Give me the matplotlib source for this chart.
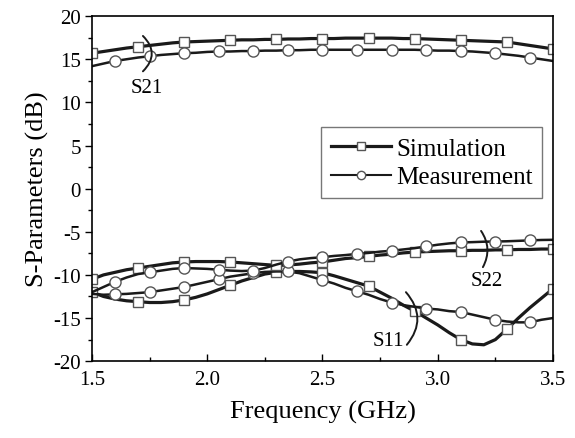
import numpy as np
import matplotlib
matplotlib.use("Agg")
import matplotlib.pyplot as plt
from matplotlib.ticker import MultipleLocator, FormatStrFormatter
from matplotlib.lines import Line2D

plt.rcParams['font.family'] = ['Liberation Serif', 'DejaVu Serif']
plt.rcParams['axes.unicode_minus'] = False

# frequency grid (GHz)
freq = np.round(np.arange(1.5, 3.5001, 0.05), 2)

s21_sim = [15.7, 15.9, 16.1, 16.3, 16.45, 16.6, 16.75, 16.9, 17.0, 17.05,
           17.1, 17.15, 17.2, 17.25, 17.25, 17.3, 17.3, 17.35, 17.35, 17.4,
           17.4, 17.4, 17.45, 17.45, 17.45, 17.45, 17.45, 17.4, 17.4, 17.35,
           17.3, 17.25, 17.2, 17.15, 17.1, 17.05, 17.0, 16.8, 16.6, 16.4, 16.2]
s21_meas = [14.2, 14.5, 14.8, 15.0, 15.2, 15.35, 15.5, 15.6, 15.7, 15.75,
            15.85, 15.9, 15.9, 15.95, 15.95, 16.0, 16.0, 16.05, 16.05, 16.1,
            16.1, 16.1, 16.1, 16.1, 16.1, 16.1, 16.1, 16.1, 16.1, 16.05,
            16.0, 16.0, 15.95, 15.9, 15.8, 15.7, 15.55, 15.4, 15.2, 15.0, 14.8]
s11_sim = [-12.0, -12.5, -12.8, -13.0, -13.1, -13.2, -13.2, -13.1, -12.9, -12.6,
           -12.2, -11.7, -11.2, -10.7, -10.3, -9.9, -9.7, -9.6, -9.6, -9.65,
           -9.75, -10.1, -10.5, -10.9, -11.3, -12.0, -12.7, -13.5, -14.2, -15.0,
           -15.8, -16.7, -17.5, -18.0, -18.1, -17.5, -16.3, -15.0, -13.8, -12.7, -11.6]
s11_meas = [-12.2, -12.3, -12.25, -12.2, -12.1, -12.0, -11.8, -11.6, -11.4, -11.1,
            -10.8, -10.5, -10.2, -10.0, -9.8, -9.65, -9.6, -9.6, -9.8, -10.2,
            -10.6, -11.0, -11.5, -11.9, -12.3, -12.8, -13.2, -13.5, -13.7, -13.9,
            -14.0, -14.2, -14.3, -14.6, -14.9, -15.2, -15.4, -15.5, -15.5, -15.2, -15.0]
s22_sim = [-10.5, -10.0, -9.7, -9.4, -9.2, -9.0, -8.8, -8.6, -8.5, -8.45,
           -8.45, -8.45, -8.5, -8.6, -8.7, -8.8, -8.9, -8.85, -8.75, -8.6,
           -8.5, -8.3, -8.1, -8.0, -7.85, -7.7, -7.6, -7.45, -7.35, -7.3,
           -7.25, -7.2, -7.2, -7.15, -7.15, -7.1, -7.1, -7.05, -7.05, -7.0, -7.0]
s22_meas = [-12.0, -11.4, -10.8, -10.3, -9.9, -9.7, -9.5, -9.3, -9.2, -9.25,
            -9.3, -9.4, -9.5, -9.55, -9.5, -9.2, -8.8, -8.45, -8.2, -8.05,
            -7.95, -7.8, -7.7, -7.56, -7.45, -7.3, -7.2, -7.05, -6.9, -6.7,
            -6.5, -6.35, -6.24, -6.2, -6.15, -6.13, -6.1, -6.05, -6.0, -5.95, -5.93]

fig = plt.figure(figsize=(5.75, 4.39), dpi=100)
ax = fig.add_axes([0.16, 0.175, 0.8017, 0.786])

line_c = '#1a1a1a'
edge_c = '#555555'
sim_kw = dict(color=line_c, lw=2.3, marker='s', ms=7, mfc='white',
              mec=edge_c, mew=1.0, markevery=4)
meas_kw = dict(color=line_c, lw=1.8, marker='o', ms=8, mfc='white',
               mec=edge_c, mew=1.0, markevery=(2, 3))

ax.plot(freq, s21_sim, **sim_kw)
ax.plot(freq, s21_meas, **meas_kw)
ax.plot(freq, s11_sim, **sim_kw)
ax.plot(freq, s11_meas, **meas_kw)
ax.plot(freq, s22_sim, **sim_kw)
ax.plot(freq, s22_meas, **meas_kw)

ax.set_xlim(1.5, 3.5)
ax.set_ylim(-20, 20)
ax.xaxis.set_major_locator(MultipleLocator(0.5))
ax.xaxis.set_minor_locator(MultipleLocator(0.25))
ax.yaxis.set_major_locator(MultipleLocator(5))
ax.yaxis.set_minor_locator(MultipleLocator(2.5))
ax.xaxis.set_major_formatter(FormatStrFormatter('%.1f'))
ax.tick_params(axis='x', which='both', direction='in', labelsize=15, pad=6)
ax.tick_params(axis='y', which='both', direction='out', labelsize=15, pad=3)
ax.tick_params(which='major', length=5, width=1)
ax.tick_params(which='minor', length=3, width=1)
for s in ax.spines.values():
    s.set_linewidth(1.2)

ax.set_xlabel('Frequency (GHz)', fontsize=19, labelpad=8)
ax.set_ylabel('S-Parameters (dB)', fontsize=19, labelpad=3)

handles = [
    Line2D([], [], color=line_c, lw=2.3, marker='s', ms=6, mfc='white',
           mec=edge_c, mew=1.0),
    Line2D([], [], color=line_c, lw=1.5, marker='o', ms=6, mfc='white',
           mec=edge_c, mew=1.0),
]
leg = ax.legend(handles, ['Simulation', 'Measurement'], loc='upper right',
                bbox_to_anchor=(0.977, 0.678), fontsize=18, numpoints=1,
                frameon=True, fancybox=False, edgecolor=edge_c,
                handlelength=2.4, handletextpad=0.2, borderpad=0.4,
                labelspacing=0.25, borderaxespad=0)
leg.get_frame().set_linewidth(1.0)

# curve labels with bracket arcs
arc = dict(arrowstyle='-', lw=1.4, color=line_c, shrinkA=0, shrinkB=0)
ax.annotate('', xy=(1.721, 13.6), xytext=(1.721, 17.7),
            arrowprops=dict(arc, connectionstyle='arc3,rad=-0.5'))
ax.text(1.739, 11.7, 'S21', fontsize=15, ha='center', va='center')
ax.annotate('', xy=(3.196, -9.1), xytext=(3.188, -4.9),
            arrowprops=dict(arc, connectionstyle='arc3,rad=-0.3'))
ax.text(3.214, -10.7, 'S22', fontsize=15, ha='center', va='center')
ax.annotate('', xy=(2.866, -18.1), xytext=(2.862, -12.0),
            arrowprops=dict(arc, connectionstyle='arc3,rad=-0.42'))
ax.text(2.784, -17.6, 'S11', fontsize=15, ha='center', va='center')

fig.savefig('out.png', dpi=100)
